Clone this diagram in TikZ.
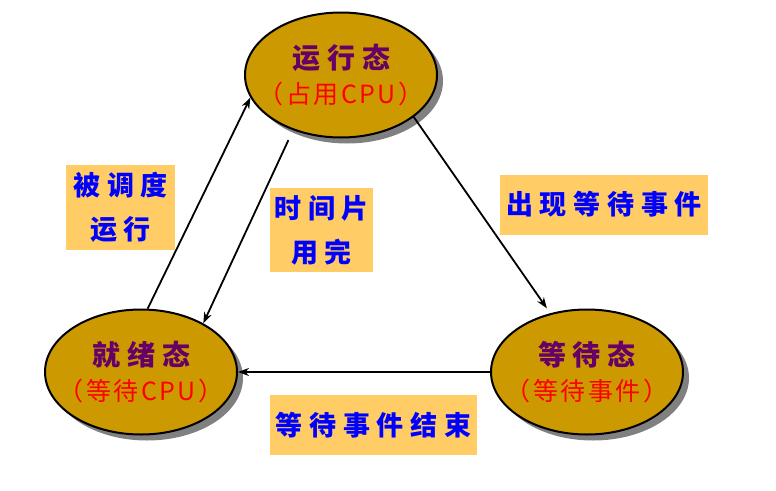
\documentclass[tikz,border=0pt]{standalone}
\usepackage{fontspec}
\usepackage{xcolor}
\usepackage{tikz}
\usetikzlibrary{shapes.geometric,shadows,arrows.meta}
\newfontfamily\cjk[LetterSpace=10]{Noto Sans CJK SC}
\newfontfamily\cjksp[LetterSpace=25]{Noto Sans CJK SC}
\definecolor{gold}{HTML}{CC9900}
\definecolor{labfill}{HTML}{FFCC66}
\definecolor{titcol}{HTML}{660066}
\newcommand{\sttl}[2]{\fontsize{28}{35}\selectfont\cjksp\bfseries\color{titcol}#1\\[9pt]\fontsize{25}{35}\selectfont\cjk\mdseries\color{red}#2}
\begin{document}
\begin{tikzpicture}[x=1pt,y=-1pt]
                \tikzstyle{state}=[ellipse, draw=black, line width=2pt, fill=gold,
                  minimum width=192pt, minimum height=125pt, inner xsep=-20pt, inner ysep=0pt,
                  align=center, drop shadow={shadow xshift=6pt, shadow yshift=-6pt, fill=gray, opacity=1}]
                \tikzstyle{lbl}=[fill=labfill, text=blue, align=center, inner sep=0pt,
                  font=\fontsize{27}{40}\selectfont\cjksp\bfseries]
                \tikzstyle{tr}=[-{Stealth[length=11pt,width=8pt]}, line width=1.8pt]
                \useasboundingbox (0,0) rectangle (776,490);
                % states
                \node [state] (run) at (341,75) {\sttl{运行态}{（占用CPU）}};
                \node [state] (ready) at (141,372) {\sttl{就绪态}{（等待CPU）}};
                \node [state] (wait) at (587,372) {\sttl{等待态}{（等待事件）}};
                % labels
                \node [lbl, minimum width=109pt, minimum height=85pt] (sched) at (120.5,207.5) {被调度\\[4pt]运行};
                \node [lbl, minimum width=103pt, minimum height=84pt] (slice) at (321.5,230) {时间片\\[4pt]用完};
                \node [lbl, minimum width=208pt, minimum height=60pt] (event) at (604,204.5) {出现等待事件};
                \node [lbl, minimum width=207pt, minimum height=60pt] (done) at (373.5,425) {等待事件结束};
                % transitions
                \draw [tr] (ready.84) -- (run.194);
                \draw [tr, shorten <=11pt] (run.229) -- (ready.38);
                \draw [tr, shorten >=6pt] (run.330) -- (wait.122);
                \draw [tr] (wait.west) -- (wait.west -| ready.east);
\end{tikzpicture}
\end{document}
